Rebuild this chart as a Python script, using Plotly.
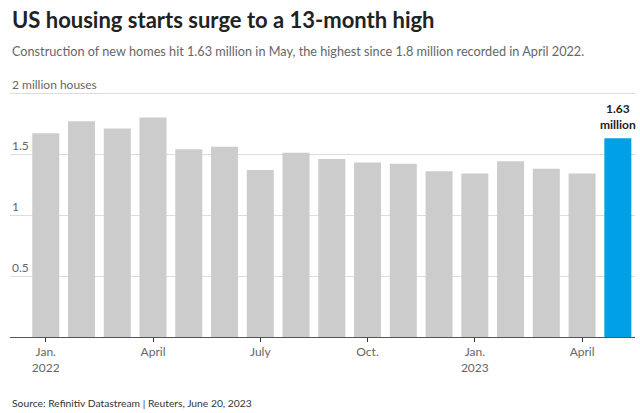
import plotly.graph_objects as go

months = ["2022-01","2022-02","2022-03","2022-04","2022-05","2022-06","2022-07","2022-08",
          "2022-09","2022-10","2022-11","2022-12","2023-01","2023-02","2023-03","2023-04","2023-05"]
starts = [1.67, 1.77, 1.71, 1.80, 1.54, 1.56, 1.37, 1.51, 1.46, 1.43, 1.42, 1.36, 1.34, 1.44, 1.38, 1.34, 1.63]
tick_idx = [0, 3, 6, 9, 12, 15]
tick_text = ["Jan.<br>2022", "April", "July", "Oct.", "Jan.<br>2023", "April"]
y_ticks = [0.5, 1, 1.5, 2]
y_text = ["0.5", "1", "1.5", "2 million houses"]

FONT = "Source Sans Pro, Lato, sans-serif"
colors = ["#cccccc"] * (len(starts) - 1) + ["#00a0e6"]
x = list(range(len(months)))

fig = go.Figure(go.Bar(x=x, y=starts, marker_color=colors, marker_line_width=0,
                       hoverinfo="skip"))

fig.update_layout(
    width=640, height=413,
    margin=dict(l=10, r=5, t=76, b=76),
    paper_bgcolor="white", plot_bgcolor="white",
    bargap=0.245, showlegend=False,
    font=dict(family=FONT, color="#666666", size=12),
)
fig.update_xaxes(range=[-1.0, 16.48], tickvals=tick_idx, ticktext=tick_text,
                 ticks="outside", ticklen=4, tickcolor="#333333", tickwidth=1,
                 showline=True, linecolor="#555555", linewidth=1,
                 showgrid=False, zeroline=False,
                 tickfont=dict(size=12, color="#666666"))
fig.update_yaxes(range=[0, 2.14], tickvals=y_ticks, showticklabels=False,
                 showgrid=True, gridcolor="#dddddd", gridwidth=1,
                 zeroline=False, showline=False)

for v, t in zip(y_ticks, y_text):
    fig.add_annotation(text=t, xref="paper", yref="y", x=0, y=v,
                       xanchor="left", yanchor="bottom", yshift=-1, showarrow=False,
                       font=dict(size=12, color="#666666", family=FONT))

fig.add_annotation(text="<b>US housing starts surge to a 13-month high</b>",
                   xref="paper", yref="paper", x=0, y=1.2146, xanchor="left", yanchor="middle",
                   showarrow=False, font=dict(size=22, color="#222222", family=FONT))
fig.add_annotation(text="Construction of new homes hit 1.63 million in May, the highest since 1.8 million recorded in April 2022.",
                   xref="paper", yref="paper", x=0, y=1.0958, xanchor="left", yanchor="middle",
                   showarrow=False, font=dict(size=12.7, color="#666666", family=FONT))
fig.add_annotation(text="Source: Refinitiv Datastream | Reuters, June 20, 2023",
                   xref="paper", yref="paper", x=0, y=-0.2529, xanchor="left", yanchor="middle",
                   showarrow=False, font=dict(size=10.3, color="#333333", family=FONT))
fig.add_annotation(text="<b>1.63<br>million</b>", x=x[-1], y=starts[-1],
                   xref="x", yref="y", yanchor="bottom", yshift=4, showarrow=False,
                   font=dict(size=12, color="#222222", family=FONT))

fig.write_html("out.html", config={"displayModeBar": False},
               post_script="document.body.style.margin='0';")
